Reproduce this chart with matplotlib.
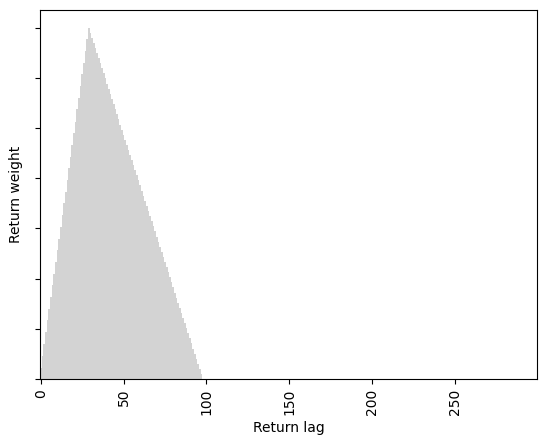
import matplotlib
matplotlib.use("Agg")
import matplotlib.pyplot as plt

# Return weights per lag (y tick labels are hidden in the original, units = tick steps)
rising = [0.23, 0.47, 0.70, 0.93, 1.17, 1.40, 1.63, 1.87, 2.10, 2.33,
          2.57, 2.80, 3.03, 3.27, 3.50, 3.73, 3.97, 4.20, 4.43, 4.67,
          4.90, 5.13, 5.37, 5.60, 5.83, 6.07, 6.30, 6.53, 6.77, 7.00]
falling = [6.90, 6.80, 6.70, 6.59, 6.49, 6.39, 6.29, 6.19, 6.09, 5.99,
           5.88, 5.78, 5.68, 5.58, 5.48, 5.38, 5.28, 5.17, 5.07, 4.97,
           4.87, 4.77, 4.67, 4.57, 4.46, 4.36, 4.26, 4.16, 4.06, 3.96,
           3.86, 3.75, 3.65, 3.55, 3.45, 3.35, 3.25, 3.14, 3.04, 2.94,
           2.84, 2.74, 2.64, 2.54, 2.43, 2.33, 2.23, 2.13, 2.03, 1.93,
           1.83, 1.72, 1.62, 1.52, 1.42, 1.32, 1.22, 1.12, 1.01, 0.91,
           0.81, 0.71, 0.61, 0.51, 0.41, 0.30, 0.20, 0.10]
weights = rising + falling
lags = list(range(len(weights)))
n_lags = 300
xticks = [0, 50, 100, 150, 200, 250]


def make_plot():
    fig = plt.figure(figsize=(5.45, 4.45), dpi=100)
    ax = fig.add_axes([0.0734, 0.148, 0.9116, 0.8295])

    ax.bar(lags, weights, width=1.0, color="lightgray", linewidth=0)
    ax.set_xlim(-0.5, n_lags - 0.5)
    ax.set_xticks(xticks)
    ax.set_xticklabels([str(t) for t in xticks], rotation=90)
    ax.tick_params(axis="y", labelleft=False)

    ax.set_xlabel("Return lag")
    ax.set_ylabel("Return weight", labelpad=8.5)
    return fig


if __name__ == "__main__":
    fig = make_plot()
    fig.savefig("out.png", dpi=100, facecolor="white")
    plt.close(fig)
